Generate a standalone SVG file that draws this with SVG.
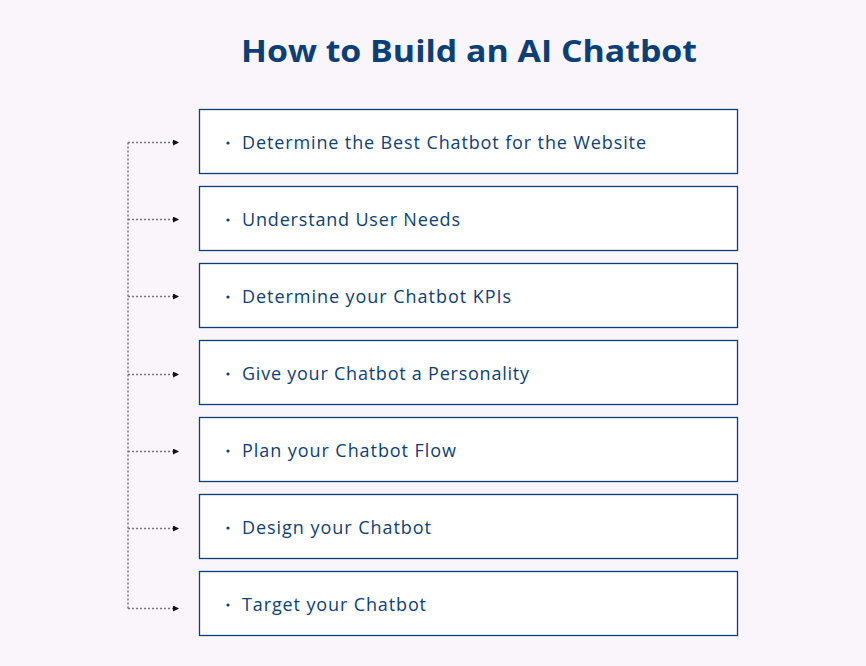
<svg xmlns="http://www.w3.org/2000/svg" width="866" height="666" viewBox="0 0 866 666">
<defs>
<style>
.bg{fill:#f9f5fb}
.box{fill:#ffffff;stroke:#0b3f77;stroke-width:1.3}
.lbl{font-family:"Open Sans","Liberation Sans",sans-serif;font-size:18px;fill:#0b3f77}
.dot{fill:#0b3f77}
.title{font-family:"Open Sans","Liberation Sans",sans-serif;font-size:31px;font-weight:700;fill:#0b3f77}
.conn{fill:none;stroke:#777777;stroke-width:1.5;stroke-dasharray:2 2}
</style>
<marker id="arr" viewBox="0 0 6 6" refX="6" refY="3" markerWidth="6" markerHeight="6" markerUnits="userSpaceOnUse" orient="auto">
<path d="M0,0 L6,3 L0,6 Z" fill="#111111"/>
</marker>
</defs>
<rect class="bg" x="0" y="0" width="866" height="666"/>
<text class="title" x="241" y="62" textLength="456" lengthAdjust="spacingAndGlyphs">How to Build an AI Chatbot</text>
<g id="connectors">
<path class="conn" d="M128,142.5 V608.5"/>
<path class="conn" d="M128,142.5 H179" marker-end="url(#arr)"/>
<path class="conn" d="M128,219.5 H179" marker-end="url(#arr)"/>
<path class="conn" d="M128,296.5 H179" marker-end="url(#arr)"/>
<path class="conn" d="M128,374.5 H179" marker-end="url(#arr)"/>
<path class="conn" d="M128,451.5 H179" marker-end="url(#arr)"/>
<path class="conn" d="M128,528.5 H179" marker-end="url(#arr)"/>
<path class="conn" d="M128,608.5 H179" marker-end="url(#arr)"/>
</g>
<g id="node1"><rect class="box" x="199.5" y="109.5" width="538" height="64"/><circle class="dot" cx="228" cy="143" r="1.6"/><text class="lbl" x="242" y="149" textLength="404">Determine the Best Chatbot for the Website</text></g>
<g id="node2"><rect class="box" x="199.5" y="186.5" width="538" height="64"/><circle class="dot" cx="228" cy="220" r="1.6"/><text class="lbl" x="242" y="226" textLength="218">Understand User Needs</text></g>
<g id="node3"><rect class="box" x="199.5" y="263.5" width="538" height="64"/><circle class="dot" cx="228" cy="297" r="1.6"/><text class="lbl" x="242" y="303" textLength="269">Determine your Chatbot KPIs</text></g>
<g id="node4"><rect class="box" x="199.5" y="340.5" width="538" height="64"/><circle class="dot" cx="228" cy="374" r="1.6"/><text class="lbl" x="242" y="380" textLength="287">Give your Chatbot a Personality</text></g>
<g id="node5"><rect class="box" x="199.5" y="417.5" width="538" height="64"/><circle class="dot" cx="228" cy="451" r="1.6"/><text class="lbl" x="242" y="457" textLength="214">Plan your Chatbot Flow</text></g>
<g id="node6"><rect class="box" x="199.5" y="494.5" width="538" height="64"/><circle class="dot" cx="228" cy="528" r="1.6"/><text class="lbl" x="242" y="534" textLength="189">Design your Chatbot</text></g>
<g id="node7"><rect class="box" x="199.5" y="571.5" width="538" height="64"/><circle class="dot" cx="228" cy="605" r="1.6"/><text class="lbl" x="242" y="611" textLength="184">Target your Chatbot</text></g>
</svg>
